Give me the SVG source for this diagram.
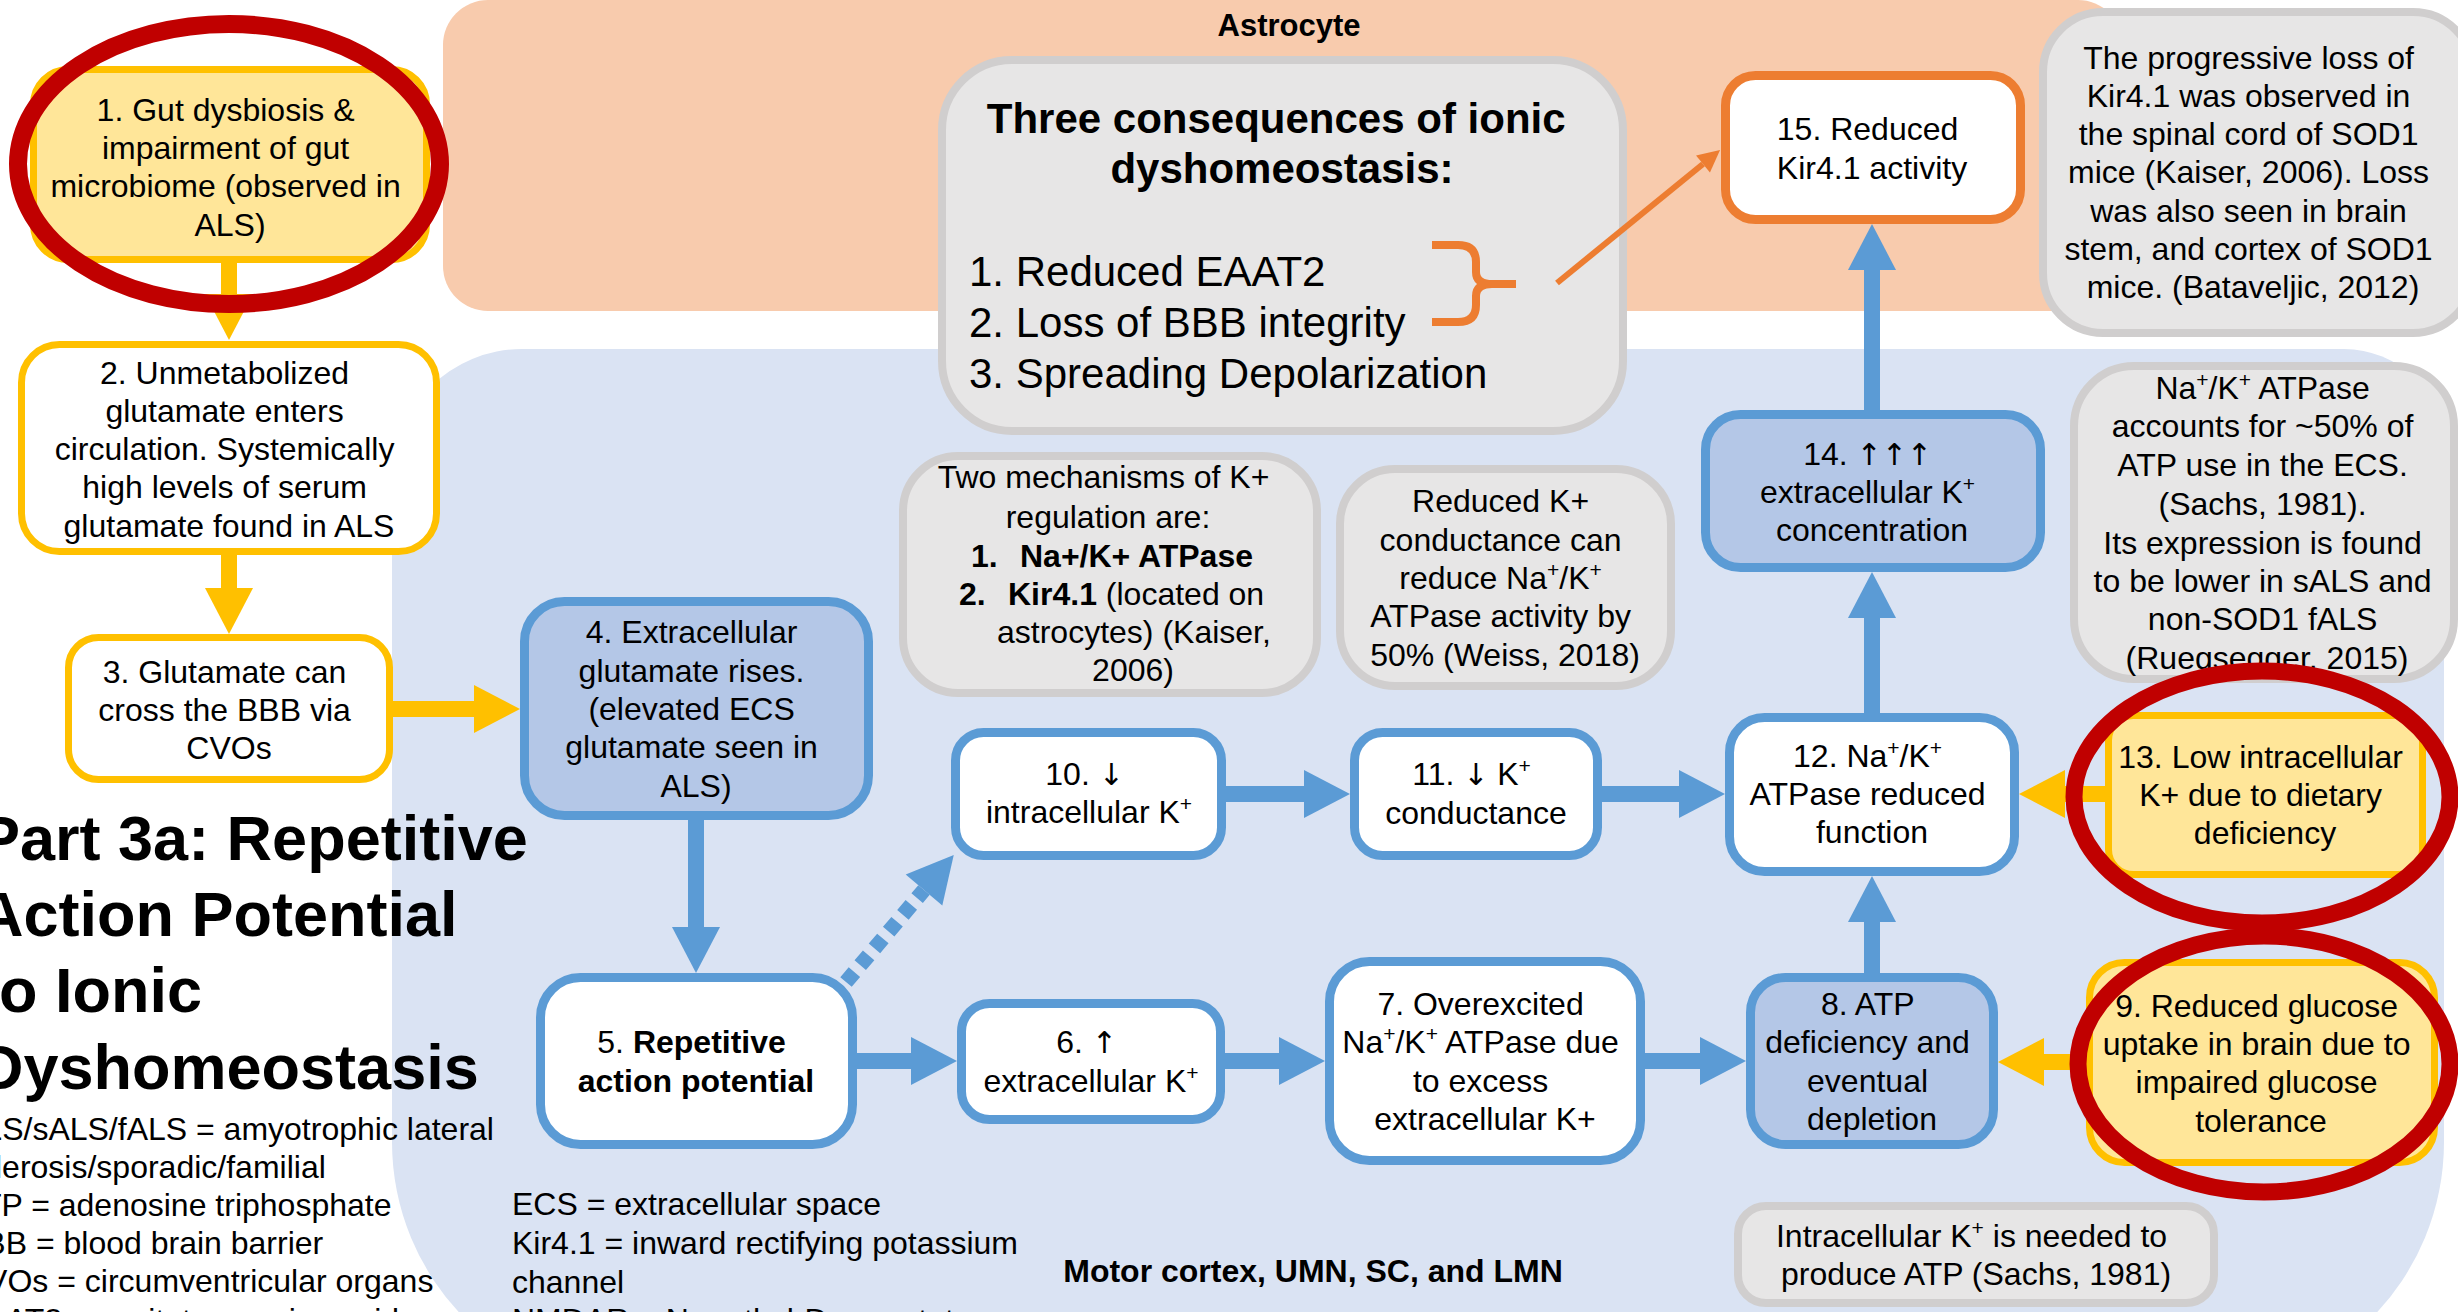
<svg xmlns="http://www.w3.org/2000/svg" width="2458" height="1312" viewBox="0 0 2458 1312">
  <style>
    text { font-family: "Liberation Sans", Arial, sans-serif; font-size: 32px; fill: #000; text-anchor: middle; }
    .b { font-weight: bold; }
    .l { text-anchor: start; }
    .sup { font-size: 21px; }
    .arr { font-family: "DejaVu Sans", sans-serif; font-size: 30px; }
    .bx { fill: #fff; stroke: #5B9BD5; stroke-width: 9; }
    .bxd { fill: #B4C7E7; stroke: #5B9BD5; stroke-width: 9; }
    .yb { fill: #FFE699; stroke: #FFC000; stroke-width: 7; }
    .yw { fill: #fff; stroke: #FFC000; stroke-width: 7; }
    .note { fill: #E7E6E6; stroke: #D0CECE; stroke-width: 8; }
    .ring { fill: none; stroke: #C00000; stroke-width: 18; }
    .ab { stroke: #5B9BD5; stroke-width: 16; fill: none; marker-end: url(#hb); }
    .ay { stroke: #FFC000; stroke-width: 16; fill: none; marker-end: url(#hy); }
    .ao { stroke: #ED7D31; stroke-width: 6; fill: none; marker-end: url(#ho); }
    .dot { stroke: #5B9BD5; stroke-width: 15; stroke-dasharray: 13 9; fill: none; marker-end: url(#hb); }
  </style>
  <defs>
    <marker id="hb" markerUnits="userSpaceOnUse" markerWidth="47" markerHeight="48" refX="0" refY="24" orient="auto" overflow="visible">
      <path d="M0,0 L46,24 L0,48 Z" fill="#5B9BD5"/>
    </marker>
    <marker id="hy" markerUnits="userSpaceOnUse" markerWidth="47" markerHeight="48" refX="0" refY="24" orient="auto" overflow="visible">
      <path d="M0,0 L46,24 L0,48 Z" fill="#FFC000"/>
    </marker>
    <marker id="ho" markerUnits="userSpaceOnUse" markerWidth="24" markerHeight="22" refX="0" refY="11" orient="auto" overflow="visible">
      <path d="M0,0 L22,11 L0,22 Z" fill="#ED7D31"/>
    </marker>
  </defs>

  <!-- compartments -->
  <g id="astrocyte-region">
    <rect x="443" y="0" width="1680" height="311" rx="45" fill="#F8CBAD"/>
    <text class="b" x="1289" y="36" style="font-size:31px">Astrocyte</text>
  </g>
  <g id="motor-region">
    <path d="M392,479 A130,130 0 0 1 522,349 L2344,349 A100,100 0 0 1 2444,449 L2444,1142 A250,250 0 0 1 2194,1392 L642,1392 A250,250 0 0 1 392,1142 Z" fill="#DAE3F3"/>
    <text class="b" x="1313" y="1282">Motor cortex, UMN, SC, and LMN</text>
  </g>

  <!-- title and abbreviations -->
  <g id="title">
    <text class="b l" style="font-size:63px">
      <tspan x="-22" y="860">Part 3a: Repetitive</tspan>
      <tspan x="-22" y="936">Action Potential</tspan>
      <tspan x="-22" y="1012">to Ionic</tspan>
      <tspan x="-22" y="1089">Dyshomeostasis</tspan>
    </text>
  </g>
  <g id="legend-left">
    <text class="l">
      <tspan x="-37" y="1140">ALS/sALS/fALS = amyotrophic lateral</tspan>
      <tspan x="-37" y="1178">sclerosis/sporadic/familial</tspan>
      <tspan x="-37" y="1216">ATP = adenosine triphosphate</tspan>
      <tspan x="-37" y="1254">BBB = blood brain barrier</tspan>
      <tspan x="-37" y="1292">CVOs = circumventricular organs</tspan>
      <tspan x="-37" y="1331">EAAT2 = excitatory amino acid</tspan>
    </text>
  </g>
  <g id="legend-right">
    <text class="l">
      <tspan x="512" y="1215">ECS = extracellular space</tspan>
      <tspan x="512" y="1254">Kir4.1 = inward rectifying potassium</tspan>
      <tspan x="512" y="1293">channel</tspan>
      <tspan x="512" y="1331">NMDAR = N-methyl-D-aspartate</tspan>
    </text>
  </g>

  <!-- notes -->
  <g id="note-consequences">
    <rect class="note" x="942" y="60" width="681" height="371" rx="70"/>
    <text class="b" style="font-size:42px">
      <tspan x="1282" y="133">Three consequences of ionic</tspan>
      <tspan x="1282" y="183">dyshomeostasis:</tspan>
    </text>
    <text class="l" style="font-size:42px">
      <tspan x="969" y="286">1. Reduced EAAT2</tspan>
      <tspan x="969" y="337">2. Loss of BBB integrity</tspan>
      <tspan x="969" y="388">3. Spreading Depolarization</tspan>
    </text>
    <path d="M1432,245 H1458 Q1476,245 1476,262 V272 Q1476,284 1492,284 H1516 M1492,284 Q1476,284 1476,296 V305 Q1476,322 1458,322 H1432" fill="none" stroke="#ED7D31" stroke-width="8"/>
  </g>
  <g id="note-kir">
    <rect class="note" x="2043" y="12" width="430" height="321" rx="60"/>
    <text>
      <tspan x="2253" y="69">The progressive loss of</tspan>
      <tspan x="2253" y="107">Kir4.1 was observed in</tspan>
      <tspan x="2253" y="145">the spinal cord of SOD1</tspan>
      <tspan x="2253" y="183">mice (Kaiser, 2006). Loss</tspan>
      <tspan x="2253" y="222">was also seen in brain</tspan>
      <tspan x="2253" y="260">stem, and cortex of SOD1</tspan>
      <tspan x="2253" y="298">mice. (Bataveljic, 2012)</tspan>
    </text>
  </g>
  <g id="note-atpase">
    <rect class="note" x="2074" y="366" width="380" height="313" rx="60"/>
    <text>
      <tspan x="2267" y="399">Na<tspan class="sup" dy="-12">+</tspan><tspan dy="12">/K</tspan><tspan class="sup" dy="-12">+</tspan><tspan dy="12"> ATPase</tspan></tspan>
      <tspan x="2267" y="437">accounts for ~50% of</tspan>
      <tspan x="2267" y="476">ATP use in the ECS.</tspan>
      <tspan x="2267" y="515">(Sachs, 1981).</tspan>
      <tspan x="2267" y="554">Its expression is found</tspan>
      <tspan x="2267" y="592">to be lower in sALS and</tspan>
      <tspan x="2267" y="630">non-SOD1 fALS</tspan>
      <tspan x="2267" y="669">(Ruegsegger, 2015)</tspan>
    </text>
  </g>
  <g id="note-mechanisms">
    <rect class="note" x="903" y="456" width="414" height="237" rx="55"/>
    <text>
      <tspan x="1108" y="488">Two mechanisms of K+</tspan>
      <tspan x="1108" y="528">regulation are:</tspan>
    </text>
    <text class="l">
      <tspan class="b" x="971" y="567">1.</tspan>
      <tspan class="b" x="1020" y="567">Na+/K+ ATPase</tspan>
      <tspan class="b" x="959" y="605">2.</tspan>
      <tspan x="1008" y="605"><tspan class="b">Kir4.1</tspan> (located on</tspan>
      <tspan x="997" y="643">astrocytes) (Kaiser,</tspan>
    </text>
    <text x="1133" y="681">2006)</text>
  </g>
  <g id="note-conductance">
    <rect class="note" x="1340" y="469" width="331" height="217" rx="55"/>
    <text>
      <tspan x="1505" y="512">Reduced K+</tspan>
      <tspan x="1505" y="551">conductance can</tspan>
      <tspan x="1505" y="589">reduce Na<tspan class="sup" dy="-12">+</tspan><tspan dy="12">/K</tspan><tspan class="sup" dy="-12">+</tspan></tspan>
      <tspan x="1505" y="627">ATPase activity by</tspan>
      <tspan x="1505" y="666">50% (Weiss, 2018)</tspan>
    </text>
  </g>
  <g id="note-intracellular">
    <rect class="note" x="1738" y="1206" width="476" height="97" rx="28"/>
    <text>
      <tspan x="1976" y="1247">Intracellular K<tspan class="sup" dy="-12">+</tspan><tspan dy="12"> is needed to</tspan></tspan>
      <tspan x="1976" y="1285">produce ATP (Sachs, 1981)</tspan>
    </text>
  </g>

  <!-- step nodes -->
  <g id="n1">
    <rect class="yb" x="33.5" y="69.5" width="393" height="190" rx="35"/>
    <text>
      <tspan x="230" y="121">1. Gut dysbiosis &amp;</tspan>
      <tspan x="230" y="159">impairment of gut</tspan>
      <tspan x="230" y="197">microbiome (observed in</tspan>
      <tspan x="230" y="236">ALS)</tspan>
    </text>
  </g>
  <g id="n2">
    <rect class="yw" x="21.5" y="344.5" width="415" height="207" rx="38"/>
    <text>
      <tspan x="229" y="384">2. Unmetabolized</tspan>
      <tspan x="229" y="422">glutamate enters</tspan>
      <tspan x="229" y="460">circulation. Systemically</tspan>
      <tspan x="229" y="498">high levels of serum</tspan>
      <tspan x="229" y="537">glutamate found in ALS</tspan>
    </text>
  </g>
  <g id="n3">
    <rect class="yw" x="68.5" y="637.5" width="321" height="142" rx="30"/>
    <text>
      <tspan x="229" y="683">3. Glutamate can</tspan>
      <tspan x="229" y="721">cross the BBB via</tspan>
      <tspan x="229" y="759">CVOs</tspan>
    </text>
  </g>
  <g id="n4">
    <rect class="bxd" x="524.5" y="601.5" width="344" height="214" rx="40"/>
    <text>
      <tspan x="696" y="643">4. Extracellular</tspan>
      <tspan x="696" y="682">glutamate rises.</tspan>
      <tspan x="696" y="720">(elevated ECS</tspan>
      <tspan x="696" y="758">glutamate seen in</tspan>
      <tspan x="696" y="797">ALS)</tspan>
    </text>
  </g>
  <g id="n5">
    <rect class="bx" x="540.5" y="977.5" width="312" height="167" rx="40"/>
    <text>
      <tspan x="696" y="1053">5. <tspan class="b">Repetitive</tspan></tspan>
      <tspan class="b" x="696" y="1092">action potential</tspan>
    </text>
  </g>
  <g id="n6">
    <rect class="bx" x="961.5" y="1003.5" width="259" height="116" rx="28"/>
    <text>
      <tspan x="1091" y="1053">6. <tspan class="arr">↑</tspan></tspan>
      <tspan x="1091" y="1092">extracellular K<tspan class="sup" dy="-12">+</tspan></tspan>
    </text>
  </g>
  <g id="n7">
    <rect class="bx" x="1329.5" y="961.5" width="311" height="199" rx="40"/>
    <text>
      <tspan x="1485" y="1015">7. Overexcited</tspan>
      <tspan x="1485" y="1053">Na<tspan class="sup" dy="-12">+</tspan><tspan dy="12">/K</tspan><tspan class="sup" dy="-12">+</tspan><tspan dy="12"> ATPase due</tspan></tspan>
      <tspan x="1485" y="1092">to excess</tspan>
      <tspan x="1485" y="1130">extracellular K+</tspan>
    </text>
  </g>
  <g id="n8">
    <rect class="bxd" x="1750.5" y="977.5" width="243" height="167" rx="35"/>
    <text>
      <tspan x="1872" y="1015">8. ATP</tspan>
      <tspan x="1872" y="1053">deficiency and</tspan>
      <tspan x="1872" y="1092">eventual</tspan>
      <tspan x="1872" y="1130">depletion</tspan>
    </text>
  </g>
  <g id="n9">
    <rect class="yb" x="2089.5" y="962.5" width="345" height="200" rx="35"/>
    <text>
      <tspan x="2261" y="1017">9. Reduced glucose</tspan>
      <tspan x="2261" y="1055">uptake in brain due to</tspan>
      <tspan x="2261" y="1093">impaired glucose</tspan>
      <tspan x="2261" y="1132">tolerance</tspan>
    </text>
  </g>
  <g id="n10">
    <rect class="bx" x="955.5" y="732.5" width="266" height="123" rx="28"/>
    <text>
      <tspan x="1089" y="785">10. <tspan class="arr">↓</tspan></tspan>
      <tspan x="1089" y="823">intracellular K<tspan class="sup" dy="-12">+</tspan></tspan>
    </text>
  </g>
  <g id="n11">
    <rect class="bx" x="1354.5" y="732.5" width="243" height="123" rx="28"/>
    <text>
      <tspan x="1476" y="785">11. <tspan class="arr">↓</tspan> K<tspan class="sup" dy="-12">+</tspan></tspan>
      <tspan x="1476" y="824">conductance</tspan>
    </text>
  </g>
  <g id="n12">
    <rect class="bx" x="1729.5" y="717.5" width="285" height="154" rx="35"/>
    <text>
      <tspan x="1872" y="767">12. Na<tspan class="sup" dy="-12">+</tspan><tspan dy="12">/K</tspan><tspan class="sup" dy="-12">+</tspan></tspan>
      <tspan x="1872" y="805">ATPase reduced</tspan>
      <tspan x="1872" y="843">function</tspan>
    </text>
  </g>
  <g id="n13">
    <rect class="yb" x="2108.5" y="715.5" width="314" height="159" rx="25"/>
    <text>
      <tspan x="2265" y="768">13. Low intracellular</tspan>
      <tspan x="2265" y="806">K+ due to dietary</tspan>
      <tspan x="2265" y="844">deficiency</tspan>
    </text>
  </g>
  <g id="n14">
    <rect class="bxd" x="1705.5" y="414.5" width="335" height="153" rx="35"/>
    <text>
      <tspan x="1872" y="465">14. <tspan class="arr">↑↑↑</tspan></tspan>
      <tspan x="1872" y="503">extracellular K<tspan class="sup" dy="-12">+</tspan></tspan>
      <tspan x="1872" y="541">concentration</tspan>
    </text>
  </g>
  <g id="n15">
    <rect x="1725.5" y="75.5" width="295" height="144" rx="30" fill="#fff" stroke="#ED7D31" stroke-width="9"/>
    <text>
      <tspan x="1872" y="140">15. Reduced</tspan>
      <tspan x="1872" y="179">Kir4.1 activity</tspan>
    </text>
  </g>

  <!-- connectors -->
  <g id="connectors">
    <line class="ay" x1="229" y1="262" x2="229" y2="294"/>
    <line class="ay" x1="229" y1="554" x2="229" y2="588"/>
    <line class="ay" x1="392" y1="709" x2="474" y2="709"/>
    <line class="ay" x1="2106" y1="794" x2="2065" y2="794"/>
    <line class="ay" x1="2087" y1="1062" x2="2044" y2="1062"/>
    <line class="ab" x1="696" y1="819" x2="696" y2="927"/>
    <line class="ab" x1="856" y1="1061" x2="911" y2="1061"/>
    <line class="ab" x1="1224" y1="1061" x2="1279" y2="1061"/>
    <line class="ab" x1="1644" y1="1061" x2="1700" y2="1061"/>
    <line class="ab" x1="1225" y1="794" x2="1304" y2="794"/>
    <line class="ab" x1="1601" y1="794" x2="1679" y2="794"/>
    <line class="ab" x1="1872" y1="974" x2="1872" y2="922"/>
    <line class="ab" x1="1872" y1="714" x2="1872" y2="618"/>
    <line class="ab" x1="1872" y1="411" x2="1872" y2="270"/>
    <line class="dot" x1="846" y1="982" x2="924" y2="890"/>
    <line class="ao" x1="1557" y1="283" x2="1703" y2="164"/>
  </g>

  <!-- highlight rings -->
  <g id="highlights">
    <ellipse class="ring" cx="229" cy="164" rx="211" ry="140"/>
    <ellipse class="ring" cx="2262" cy="797" rx="188" ry="126" style="stroke-width:17"/>
    <ellipse class="ring" cx="2264" cy="1064" rx="186" ry="128" style="stroke-width:17"/>
  </g>
</svg>
